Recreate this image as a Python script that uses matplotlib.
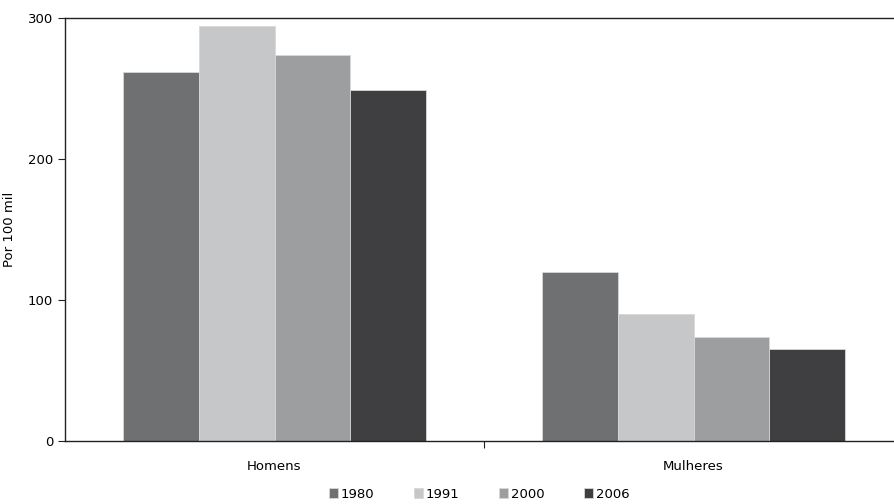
import numpy as np
import matplotlib.pyplot as plt
from matplotlib.ticker import FixedLocator

plt.rcParams['font.family'] = ['DejaVu Sans Condensed', 'DejaVu Sans']

# Data
categories = ['Homens', 'Mulheres']
years = ['1980', '1991', '2000', '2006']
values = {
    '1980': [262, 120],
    '1991': [294, 90],
    '2000': [274, 74],
    '2006': [249, 65],
}
colors = ['#6f7072', '#c6c7c9', '#9d9ea0', '#3f3f41']

fig = plt.figure(figsize=(8.94, 5.04), dpi=100)
ax = fig.add_axes([65 / 894, 1 - 441 / 504, 838 / 894, 423 / 504])

x = np.arange(len(categories))
group_w = 0.723
bar_w = group_w / len(years)
for i, (yr, c) in enumerate(zip(years, colors)):
    offs = -group_w / 2 + bar_w * (i + 0.5)
    ax.bar(x + offs, values[yr], width=bar_w, color=c, edgecolor='#d8d8d8',
           linewidth=0.6, label=yr, zorder=2)

ax.set_xlim(-0.5, 1.5)
ax.set_ylim(0, 300)
ax.set_yticks([0, 100, 200, 300])
ax.set_xticks(x)
ax.set_xticklabels(categories, fontsize=9.5)
ax.xaxis.set_minor_locator(FixedLocator([0.5]))
ax.tick_params(axis='x', which='major', length=0, pad=14)
ax.tick_params(axis='x', which='minor', length=5, width=0.8, color='#222222')
ax.tick_params(axis='y', length=5, width=0.8, labelsize=9.5, color='#222222')
ax.set_ylabel('Por 100 mil', fontsize=9.5)
ax.yaxis.set_label_coords(-0.058, 0.5)

for side in ['left', 'bottom', 'top']:
    ax.spines[side].set_linewidth(1.0)
    ax.spines[side].set_color('#222222')
ax.spines['right'].set_visible(False)

ax.legend(loc='upper center', bbox_to_anchor=(0.5 - 5 / 838, -0.082), ncol=4,
          frameon=False, fontsize=9.5, handlelength=0.7, handleheight=0.7,
          handletextpad=0.2, columnspacing=3.0)

fig.savefig('out.png', dpi=100)
